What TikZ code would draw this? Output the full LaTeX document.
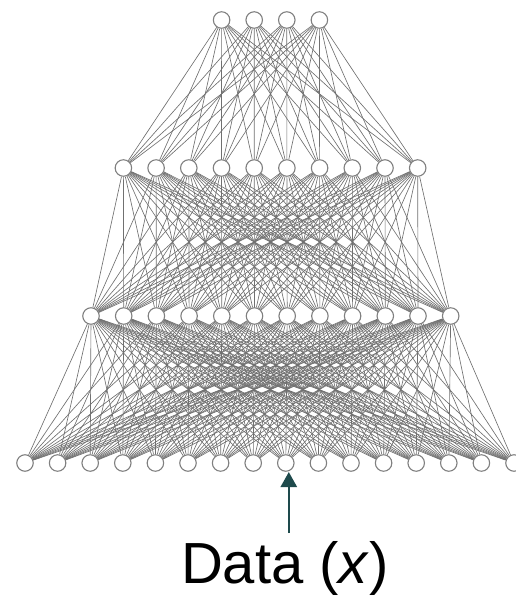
\documentclass[tikz,border=0pt]{standalone}
\usepackage{fontspec}
\setmainfont{Liberation Sans}
\usepackage{xcolor}
\usetikzlibrary{positioning, calc, arrows.meta}
\definecolor{linkgray}{HTML}{707070}
\definecolor{ringgray}{HTML}{808080}
\definecolor{arrowteal}{HTML}{1E4A4C}
\tikzset{
    neuron/.style={circle, draw=ringgray, fill=white, line width=1.1pt,
        minimum size=16.5pt, inner sep=0pt},
    link/.style={linkgray, line width=0.65pt},
    inarrow/.style={arrowteal, line width=2.6pt,
        -{Triangle[length=15pt, width=16pt]}}
}

\begin{document}
\begin{tikzpicture}[x=1pt, y=-1pt]

    \useasboundingbox (0,0) rectangle (516,597);

    % --- Input Layer (16 units) ---
    \foreach \i in {1,...,16}
        \node[neuron] (d\i) at ({25+(\i-1)*32.6}, 463) {};

    % --- Hidden Layer 1 (12 units) ---
    \foreach \i in {1,...,12}
        \node[neuron] (a\i) at ({91+(\i-1)*32.7}, 316) {};

    % --- Hidden Layer 2 (10 units) ---
    \foreach \i in {1,...,10}
        \node[neuron] (b\i) at ({123.4+(\i-1)*32.7}, 168) {};

    % --- Output Layer (4 units) ---
    \foreach \i in {1,...,4}
        \node[neuron] (c\i) at ({221.6+(\i-1)*32.6}, 20) {};

    % --- Fully Connected Links ---
    \foreach \i in {1,...,16}
        \foreach \j in {1,...,12}
            \draw[link] (d\i) -- (a\j);
    \foreach \i in {1,...,12}
        \foreach \j in {1,...,10}
            \draw[link] (a\i) -- (b\j);
    \foreach \i in {1,...,10}
        \foreach \j in {1,...,4}
            \draw[link] (b\i) -- (c\j);

    % --- Data Label and Arrow ---
    \node[anchor=base] (data) at (285, 583)
        {\fontsize{58}{60}\selectfont Data (\textit{x})};
    \coordinate (tail) at ($(d9)+(3,70)$);
    \draw[inarrow, shorten >=9pt] (tail) -- (tail |- d9);

\end{tikzpicture}
\end{document}
